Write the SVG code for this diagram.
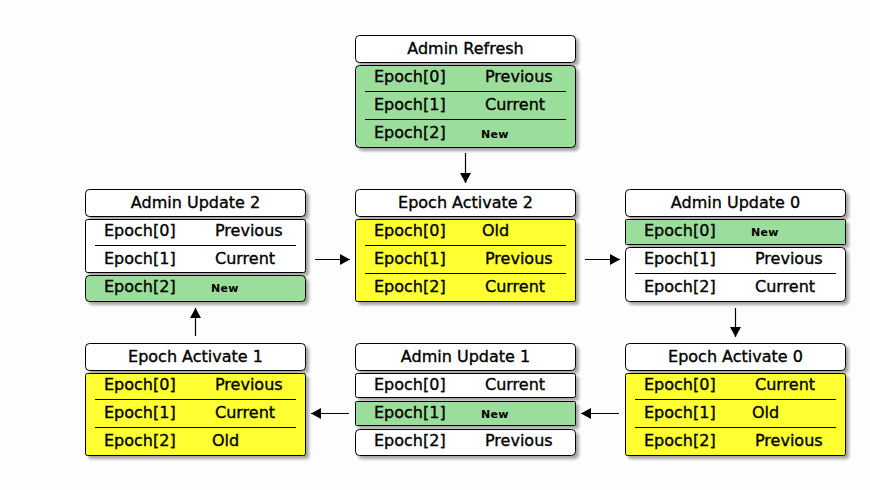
<svg xmlns="http://www.w3.org/2000/svg" width="870" height="490" viewBox="0 0 870 490">
<defs>
<filter id="sh" x="-10%" y="-10%" width="130%" height="140%">
<feDropShadow dx="3" dy="3" stdDeviation="1.5" flood-color="#000" flood-opacity="0.35"/>
</filter>
<marker id="ah" viewBox="0 0 10 11" refX="10" refY="5.5" markerWidth="10" markerHeight="11" markerUnits="userSpaceOnUse" orient="auto">
<path d="M0,0 L10,5.5 L0,11 Z" fill="#000"/>
</marker>
<style>
.hd{fill:#fff;stroke:#000;stroke-width:1;filter:url(#sh)}
.w{fill:#fff;stroke:#000;stroke-width:1;filter:url(#sh)}
.g{fill:#9bde9b;stroke:#000;stroke-width:1;filter:url(#sh)}
.y{fill:#ffff33;stroke:#000;stroke-width:1;filter:url(#sh)}
.sep{stroke:#000;stroke-width:1}
.t{font-family:"DejaVu Sans",sans-serif;font-size:16px;fill:#000;stroke:#000;stroke-width:0.35}
.h{font-family:"DejaVu Sans",sans-serif;font-size:16px;fill:#000;stroke:#000;stroke-width:0.35;text-anchor:middle}
.n{font-family:"DejaVu Sans",sans-serif;font-size:11px;font-weight:bold;fill:#000;letter-spacing:0.3px}
.c{stroke:#000;stroke-width:1.2;fill:none;marker-end:url(#ah)}
</style>
</defs>
<rect x="0" y="0" width="870" height="490" fill="#fdfdfd"/>

<g id="admin-refresh">
<rect class="hd" x="355.5" y="35.5" width="220" height="27" rx="4"/>
<text class="h" x="465.5" y="54">Admin Refresh</text>
<rect class="g" x="355.5" y="65.5" width="220" height="82" rx="4"/>
<line class="sep" x1="365" y1="91.5" x2="566" y2="91.5"/>
<line class="sep" x1="365" y1="119.5" x2="566" y2="119.5"/>
<text class="t" x="374" y="82">Epoch[0]</text><text class="t" x="485" y="82">Previous</text>
<text class="t" x="374" y="110">Epoch[1]</text><text class="t" x="485" y="110">Current</text>
<text class="t" x="374" y="138">Epoch[2]</text><text class="n" x="481" y="138">New</text>
</g>

<g id="admin-update-2">
<rect class="hd" x="85.5" y="189.5" width="220" height="27" rx="4"/>
<text class="h" x="195.5" y="208">Admin Update 2</text>
<rect class="w" x="85.5" y="219.5" width="220" height="53" rx="2"/>
<line class="sep" x1="95" y1="245.5" x2="296" y2="245.5"/>
<rect class="g" x="85.5" y="275.5" width="220" height="26" rx="4"/>
<text class="t" x="104" y="236">Epoch[0]</text><text class="t" x="215" y="236">Previous</text>
<text class="t" x="104" y="264">Epoch[1]</text><text class="t" x="215" y="264">Current</text>
<text class="t" x="104" y="292">Epoch[2]</text><text class="n" x="211" y="292">New</text>
</g>

<g id="epoch-activate-2">
<rect class="hd" x="355.5" y="189.5" width="220" height="27" rx="4"/>
<text class="h" x="465.5" y="208">Epoch Activate 2</text>
<rect class="y" x="355.5" y="219.5" width="220" height="82" rx="2"/>
<line class="sep" x1="365" y1="245.5" x2="566" y2="245.5"/>
<line class="sep" x1="365" y1="273.5" x2="566" y2="273.5"/>
<text class="t" x="374" y="236">Epoch[0]</text><text class="t" x="482" y="236">Old</text>
<text class="t" x="374" y="264">Epoch[1]</text><text class="t" x="485" y="264">Previous</text>
<text class="t" x="374" y="292">Epoch[2]</text><text class="t" x="485" y="292">Current</text>
</g>

<g id="admin-update-0">
<rect class="hd" x="625.5" y="189.5" width="220" height="27" rx="4"/>
<text class="h" x="735.5" y="208">Admin Update 0</text>
<rect class="g" x="625.5" y="219.5" width="220" height="25" rx="1"/>
<rect class="w" x="625.5" y="247.5" width="220" height="54" rx="4"/>
<line class="sep" x1="635" y1="273.5" x2="836" y2="273.5"/>
<text class="t" x="644" y="236">Epoch[0]</text><text class="n" x="751" y="236">New</text>
<text class="t" x="644" y="264">Epoch[1]</text><text class="t" x="755" y="264">Previous</text>
<text class="t" x="644" y="292">Epoch[2]</text><text class="t" x="755" y="292">Current</text>
</g>

<g id="epoch-activate-1">
<rect class="hd" x="85.5" y="343.5" width="220" height="27" rx="4"/>
<text class="h" x="195.5" y="362">Epoch Activate 1</text>
<rect class="y" x="85.5" y="373.5" width="220" height="82" rx="2"/>
<line class="sep" x1="95" y1="399.5" x2="296" y2="399.5"/>
<line class="sep" x1="95" y1="427.5" x2="296" y2="427.5"/>
<text class="t" x="104" y="390">Epoch[0]</text><text class="t" x="215" y="390">Previous</text>
<text class="t" x="104" y="418">Epoch[1]</text><text class="t" x="215" y="418">Current</text>
<text class="t" x="104" y="446">Epoch[2]</text><text class="t" x="212" y="446">Old</text>
</g>

<g id="admin-update-1">
<rect class="hd" x="355.5" y="343.5" width="220" height="27" rx="4"/>
<text class="h" x="465.5" y="362">Admin Update 1</text>
<rect class="w" x="355.5" y="373.5" width="220" height="24" rx="2"/>
<rect class="g" x="355.5" y="401.5" width="220" height="24" rx="1"/>
<rect class="w" x="355.5" y="429.5" width="220" height="26" rx="4"/>
<text class="t" x="374" y="390">Epoch[0]</text><text class="t" x="485" y="390">Current</text>
<text class="t" x="374" y="418">Epoch[1]</text><text class="n" x="481" y="418">New</text>
<text class="t" x="374" y="446">Epoch[2]</text><text class="t" x="485" y="446">Previous</text>
</g>

<g id="epoch-activate-0">
<rect class="hd" x="625.5" y="343.5" width="220" height="27" rx="4"/>
<text class="h" x="735.5" y="362">Epoch Activate 0</text>
<rect class="y" x="625.5" y="373.5" width="220" height="82" rx="2"/>
<line class="sep" x1="635" y1="399.5" x2="836" y2="399.5"/>
<line class="sep" x1="635" y1="427.5" x2="836" y2="427.5"/>
<text class="t" x="644" y="390">Epoch[0]</text><text class="t" x="755" y="390">Current</text>
<text class="t" x="644" y="418">Epoch[1]</text><text class="t" x="752" y="418">Old</text>
<text class="t" x="644" y="446">Epoch[2]</text><text class="t" x="755" y="446">Previous</text>
</g>

<g id="connectors">
<line class="c" x1="465.5" y1="153" x2="465.5" y2="183"/>
<line class="c" x1="315" y1="259.5" x2="350" y2="259.5"/>
<line class="c" x1="585" y1="259.5" x2="620" y2="259.5"/>
<line class="c" x1="735.5" y1="308" x2="735.5" y2="337"/>
<line class="c" x1="619" y1="413.5" x2="581" y2="413.5"/>
<line class="c" x1="349" y1="413.5" x2="311" y2="413.5"/>
<line class="c" x1="195.5" y1="336" x2="195.5" y2="308"/>
</g>
</svg>
